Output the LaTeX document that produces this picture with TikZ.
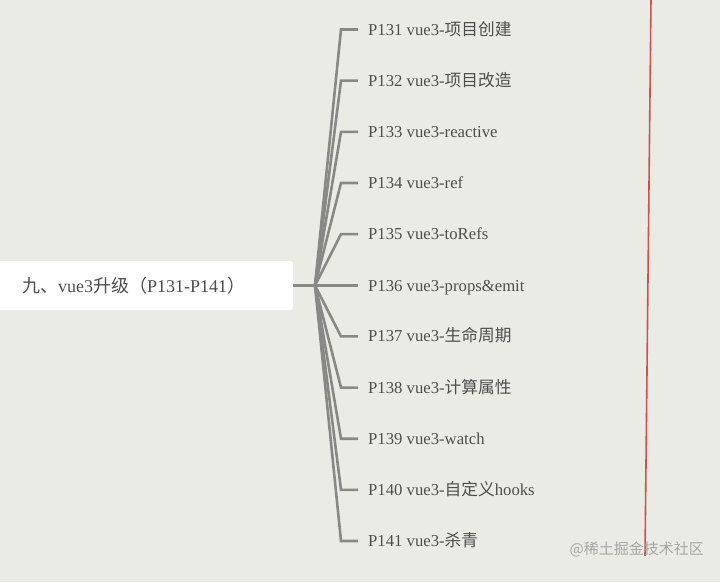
\documentclass[tikz,border=0pt]{standalone}
\usepackage{fontspec}
\setmainfont{Liberation Serif}
\newfontfamily\cjk{Noto Sans CJK SC}
\usetikzlibrary{positioning}
\definecolor{paper}{HTML}{EBEBE6}
\definecolor{twig}{HTML}{888986}
\definecolor{ink}{HTML}{4E4E4E}
\definecolor{redline}{HTML}{D05050}

\begin{document}
\begin{tikzpicture}[
  x=1pt, y=-1pt,
  root/.style = {fill=white, rounded corners=3pt, anchor=west, align=left,
                 text width=245pt, inner xsep=26pt, inner ysep=0pt,
                 minimum height=49pt, text=ink, font=\fontsize{18}{20}\selectfont},
  item/.style = {anchor=west, inner xsep=10pt, inner ysep=0pt,
                 text height=15pt, text depth=4pt, text=ink,
                 font=\fontsize{16.7}{18}\selectfont},
  twig/.style = {draw=twig, line width=2.6pt},
  wm/.style   = {anchor=east, inner sep=0pt, text=gray!70,
                 font={\cjk\fontsize{15}{16}\selectfont}},
]
\useasboundingbox (0,0) rectangle (720,582);
\fill[paper] (0,0) rectangle (720,582);
% root and hub
\node[root] (root) at (-4,285.5) {{\cjk 九、}vue3{\cjk 升级（}P131-P141{\cjk ）}};
\coordinate (hub) at (315,285.5);
% lessons
\node[item] (k1)  at (358,29.5)   {P131 vue3-{\cjk 项目创建}};
\node[item] (k2)  at (358,80.65)  {P132 vue3-{\cjk 项目改造}};
\node[item] (k3)  at (358,131.8)  {P133 vue3-reactive};
\node[item] (k4)  at (358,182.95) {P134 vue3-ref};
\node[item] (k5)  at (358,234.1)  {P135 vue3-toRefs};
\node[item] (k6)  at (358,285.5)  {P136 vue3-props\&emit};
\node[item] (k7)  at (358,336.4)  {P137 vue3-{\cjk 生命周期}};
\node[item] (k8)  at (358,387.55) {P138 vue3-{\cjk 计算属性}};
\node[item] (k9)  at (358,438.7)  {P139 vue3-watch};
\node[item] (k10) at (358,489.85) {P140 vue3-{\cjk 自定义}hooks};
\node[item] (k11) at (358,541)    {P141 vue3-{\cjk 杀青}};
% branches
\draw[twig] (root.east) -- (hub);
\draw[twig] (hub) -- ([xshift=-17pt]k1.west) -- (k1.west);
\draw[twig] (hub) -- ([xshift=-17pt]k2.west) -- (k2.west);
\draw[twig] (hub) -- ([xshift=-17pt]k3.west) -- (k3.west);
\draw[twig] (hub) -- ([xshift=-17pt]k4.west) -- (k4.west);
\draw[twig] (hub) -- ([xshift=-17pt]k5.west) -- (k5.west);
\draw[twig] (hub) -- (k6.west);
\draw[twig] (hub) -- ([xshift=-17pt]k7.west) -- (k7.west);
\draw[twig] (hub) -- ([xshift=-17pt]k8.west) -- (k8.west);
\draw[twig] (hub) -- ([xshift=-17pt]k9.west) -- (k9.west);
\draw[twig] (hub) -- ([xshift=-17pt]k10.west) -- (k10.west);
\draw[twig] (hub) -- ([xshift=-17pt]k11.west) -- (k11.west);
% red margin line and watermark
\draw[redline, line width=1.6pt] (651,-1) -- (645,556);
\node[wm] (mark1) at (704,549) {@稀土掘金技术社区};
\end{tikzpicture}
\end{document}
